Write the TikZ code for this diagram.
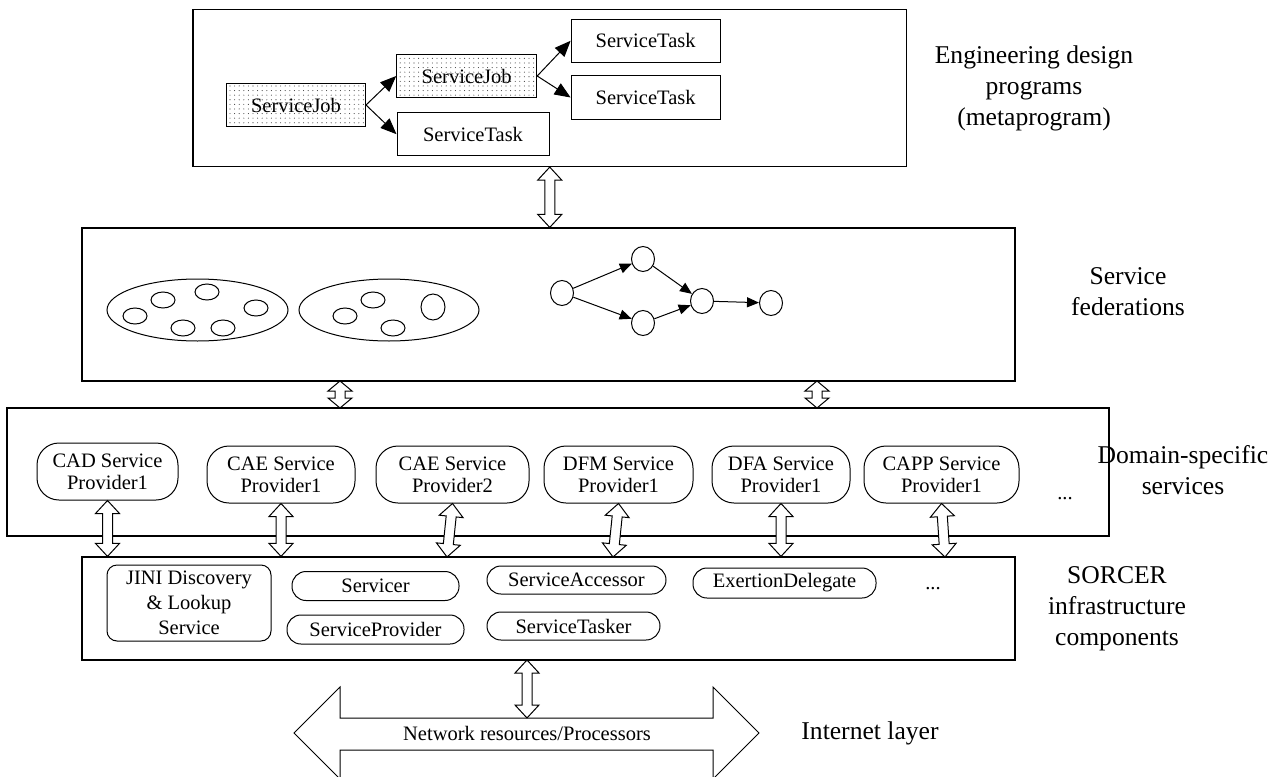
\documentclass[tikz,border=0pt]{standalone}
\usepackage{fontspec}
\setmainfont{Liberation Serif}
\usetikzlibrary{arrows.meta,calc,shapes.geometric,patterns}
\pgfdeclarepatternformonly{griddots}{\pgfqpoint{-1pt}{-1pt}}{\pgfqpoint{1pt}{1pt}}{\pgfqpoint{4.6pt}{4.6pt}}{\pgfpathcircle{\pgfqpoint{0pt}{0pt}}{0.55pt}\pgfusepath{fill}}
\newcommand\dblarrow[3][13]{%
  \coordinate (dA) at ($(#2)!#1pt!(#3)$);
  \coordinate (dB) at ($(#3)!#1pt!(#2)$);
  \draw[dblarr] (#2) -- ($(dA)!12pt!90:(#3)$) -- ($(dA)!5pt!90:(#3)$) -- ($(dB)!5pt!-90:(#2)$) -- ($(dB)!12pt!-90:(#2)$) -- (#3) -- ($(dB)!12pt!90:(#2)$) -- ($(dB)!5pt!90:(#2)$) -- ($(dA)!5pt!-90:(#3)$) -- ($(dA)!12pt!-90:(#3)$) -- cycle;
}
\begin{document}
\begin{tikzpicture}[x=1pt,y=-1pt,
  box/.style={draw, line width=1.2pt, inner sep=0pt},
  job/.style={draw, line width=1pt, pattern=griddots, pattern color=black!75, minimum height=43.5pt, inner sep=0pt, font=\fontsize{20.5}{22}\selectfont},
  task/.style={draw, line width=1pt, minimum height=43.5pt, inner sep=0pt, font=\fontsize{20.5}{22}\selectfont},
  prov/.style={draw, line width=1pt, rounded corners=22pt, minimum height=57pt, inner sep=0pt, align=center, font=\fontsize{20.5}{22}\selectfont},
  comp/.style={draw, line width=1pt, rounded corners=14pt, minimum height=29pt, inner sep=0pt, align=center, font=\fontsize{20.5}{25}\selectfont},
  lbl/.style={align=center, font=\fontsize{25.6}{31}\selectfont, inner sep=0pt},
  txt/.style={font=\fontsize{20.5}{22}\selectfont, inner sep=0pt},
  big/.style={draw, ellipse, line width=1pt, inner sep=0pt},
  small/.style={draw, ellipse, line width=1pt, minimum width=24pt, minimum height=16pt, inner sep=0pt},
  circ/.style={draw, ellipse, line width=1pt, minimum width=23pt, minimum height=25pt, inner sep=0pt},
  arr/.style={line width=1pt, -{Triangle[length=16pt,width=13pt]}},
  garr/.style={line width=1pt, -{Triangle[length=12pt,width=10pt]}},
  dblarr/.style={draw, fill=white, line width=1pt, line join=miter},
]
\useasboundingbox (0,0) rectangle (1276,776);

% ---------- layer boxes
\node[box, minimum width=713.5pt, minimum height=157pt] (top) at (549.75,88) {};
\node[box, minimum width=933pt, minimum height=153pt] (fed) at (548.5,304.5) {};
\node[box, minimum width=1102pt, minimum height=128pt] (dom) at (558,472) {};
\node[box, minimum width=933pt, minimum height=103pt] (sorc) at (548.5,608.5) {};

% ---------- metaprogram
\node[job, minimum width=139pt] (sj1) at (296,105) {ServiceJob};
\node[job, minimum width=140pt] (sj2) at (466.7,76) {ServiceJob};
\node[task, minimum width=152pt] (stb) at (473,134.2) {ServiceTask};
\node[task, minimum width=149pt] (st1) at (645.6,40.8) {ServiceTask};
\node[task, minimum width=149pt] (st2) at (645.6,97.5) {ServiceTask};
\draw[arr] (sj1.east) -- (sj2.west);
\draw[arr] (sj1.east) -- (stb.west);
\draw[arr] (sj2.east) -- (st1.west);
\draw[arr] (sj2.east) -- (st2.west);

% ---------- federations
\node[big, minimum width=181pt, minimum height=62pt] (e1) at (197.5,310) {};
\node[big, minimum width=180pt, minimum height=62pt] (e2) at (389,310) {};
\node[small] (s1) at (135,316) {};
\node[small] (s2) at (163,300) {};
\node[small] (s3) at (207,292) {};
\node[small] (s4) at (256,308) {};
\node[small] (s5) at (183,328) {};
\node[small] (s6) at (223,328) {};
\node[small] (s7) at (345,316) {};
\node[small] (s8) at (373,300) {};
\node[small] (s9) at (393,328) {};
\node[small, minimum height=26pt] (s10) at (433,307) {};

\node[circ] (c1) at (562,293) {};
\node[circ] (c2) at (643,259) {};
\node[circ] (c3) at (643,323) {};
\node[circ] (c4) at (702,301) {};
\node[circ] (c5) at (771,303) {};
\draw[garr] (c1) -- (c2);
\draw[garr] (c1) -- (c3);
\draw[garr] (c2) -- (c4);
\draw[garr] (c3) -- (c4);
\draw[garr] (c4) -- (c5);

% ---------- domain-specific services
\node[prov, minimum width=141pt] (cad) at (107.5,471.5) {CAD Service\\Provider1};
\node[prov, minimum width=148pt] (cae1) at (281,474.5) {CAE Service\\Provider1};
\node[prov, minimum width=153pt] (cae2) at (452.5,474.5) {CAE Service\\Provider2};
\node[prov, minimum width=149pt] (dfm) at (618.5,474.5) {DFM Service\\Provider1};
\node[prov, minimum width=138pt] (dfa) at (781,474.5) {DFA Service\\Provider1};
\node[prov, minimum width=155pt] (capp) at (941.5,474.5) {CAPP Service\\Provider1};
\node[txt] (ddots) at (1065,499) {...};

% ---------- SORCER components
\node[comp, rounded corners=10pt, minimum width=164pt, minimum height=76pt] (jini) at (189,603) {JINI Discovery\\\&~Lookup\\Service};
\node[comp, minimum width=167pt] (servicer) at (375.5,586) {Servicer};
\node[comp, minimum width=177pt] (sprov) at (375.5,629.5) {ServiceProvider};
\node[comp, minimum width=179pt, minimum height=28pt] (sacc) at (576.5,580) {ServiceAccessor};
\node[comp, minimum width=173pt, minimum height=28pt] (stask) at (573.5,626) {ServiceTasker};
\node[comp, minimum width=183pt, minimum height=30pt] (exd) at (784.5,583) {ExertionDelegate};
\node[txt] (sdots) at (933,589) {...};

% ---------- internet layer arrow
\draw[dblarr] (294,733) -- (340,687) -- (340,718) -- (713,718) -- (713,687) -- (759,733) -- (713,779) -- (713,750) -- (340,750) -- (340,779) -- cycle;
\node[txt] (net) at (527,733) {Network resources/Processors};

% ---------- coordinates for double arrows
\coordinate (f1t) at (340,381);
\coordinate (f1b) at (340,408);
\coordinate (f2t) at (817,381);
\coordinate (f2b) at (817,408);
\coordinate (cae2b) at (447,557);
\coordinate (dfmb) at (613,557);
\coordinate (cappb) at (945,557);
\coordinate (sorcb) at (527,660);
\coordinate (nett) at (527,718);

\dblarrow{top.south}{top.south |- fed.north}
\dblarrow[10]{f1t}{f1b}
\dblarrow[10]{f2t}{f2b}
\dblarrow{cad.south}{cad.south |- sorc.north}
\dblarrow{cae1.south}{cae1.south |- sorc.north}
\dblarrow{cae2.south}{cae2b}
\dblarrow{dfm.south}{dfmb}
\dblarrow{dfa.south}{dfa.south |- sorc.north}
\dblarrow{capp.south}{cappb}
\dblarrow{sorcb}{nett}

% ---------- layer labels
\node[lbl] (lEng) at (1034,88) {Engineering design\\programs\\(metaprogram)};
\node[lbl] (lFed) at (1128,292) {Service\\federations};
\node[lbl] (lDom) at (1183,470) {Domain-specific\\services};
\node[lbl] (lSor) at (1117,609) {SORCER\\infrastructure\\components};
\node[lbl] (lInt) at (870,733) {Internet layer};
\end{tikzpicture}
\end{document}
